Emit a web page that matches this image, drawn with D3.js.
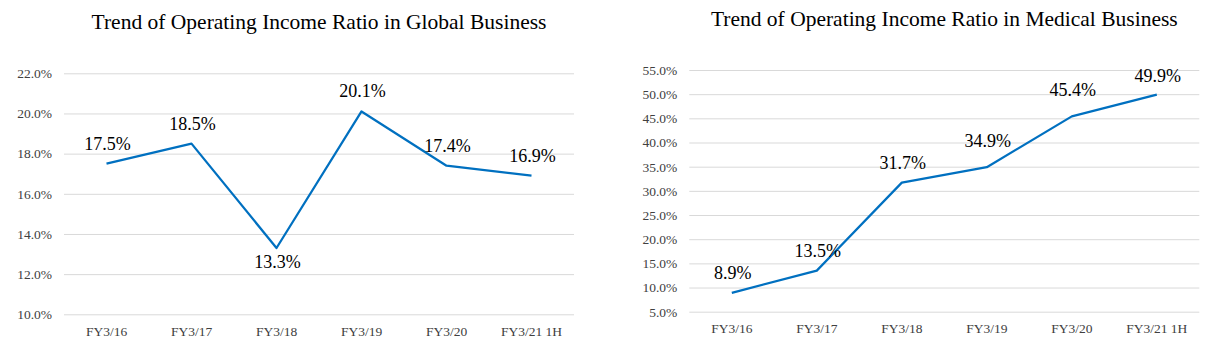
<!DOCTYPE html>
<html>
<head>
<meta charset="utf-8">
<script src="https://cdn.jsdelivr.net/npm/d3@7"></script>
<style>
  body { margin: 0; background: #fff; }
  svg { display: block; }
  svg text { font-family: "Liberation Serif", "Times New Roman", serif; }
</style>
</head>
<body>
<svg id="chart" width="1220" height="351"></svg>
<script>
// categories and values
const years = ["FY3/16", "FY3/17", "FY3/18", "FY3/19", "FY3/20", "FY3/21 1H"];
const globalRatio = [17.5, 18.5, 13.3, 20.1, 17.4, 16.9];
const medicalRatio = [8.9, 13.5, 31.7, 34.9, 45.4, 49.9];
const globalTicks = [10, 12, 14, 16, 18, 20, 22];
const medicalTicks = [5, 10, 15, 20, 25, 30, 35, 40, 45, 50, 55];

var svg = d3.select("#chart");
const serif = "Liberation Serif, Times New Roman, serif";

// panel layout
const panels = [
  {
    title: "Trend of Operating Income Ratio in Global Business",
    values: globalRatio, ticks: globalTicks,
    x0: 64, x1: 574, yTop: 73.3, yBot: 314.3, titleY: 29,
    // label offset (dy from the point)
    labelDy: [-13.5, -14, 20, -14, -13.5, -14]
  },
  {
    title: "Trend of Operating Income Ratio in Medical Business",
    values: medicalRatio, ticks: medicalTicks,
    x0: 689.3, x1: 1199.3, yTop: 70, yBot: 311.7, titleY: 25.7,
    labelDy: [-13.5, -14, -13.5, -20, -20, -13]
  }
];

panels.forEach(function (p) {
  const g = svg.append("g").attr("font-family", serif);

  const x = d3.scaleBand()
    .domain(years)
    .range([p.x0, p.x1]);

  const y = d3.scaleLinear()
    .domain(d3.extent(p.ticks))
    .range([p.yBot, p.yTop]);

  // gridlines + tick labels
  g.append("g")
    .attr("transform", "translate(" + p.x0 + ",0)")
    .call(d3.axisLeft(y)
      .tickValues(p.ticks)
      .tickSize(-(p.x1 - p.x0))
      .tickPadding(12)
      .tickFormat(function (d) { return d.toFixed(1) + "%"; }))
    .call(function (a) {
      a.attr("font-family", serif);
      a.select(".domain").remove();
      a.selectAll(".tick line").attr("stroke", "#d9d9d9").attr("stroke-width", 1);
      a.selectAll(".tick text")
        .attr("font-size", 13.5)
        .attr("fill", "#404040");
    });

  // category axis
  g.append("g")
    .attr("transform", "translate(0," + p.yBot + ")")
    .call(d3.axisBottom(x).tickSize(0).tickPadding(12))
    .call(function (a) {
      a.attr("font-family", serif);
      a.select(".domain").remove();
      a.selectAll(".tick text")
        .attr("font-size", 13.5)
        .attr("fill", "#404040");
    });

  // line
  const line = d3.line()
    .x(function (d, i) { return x(years[i]) + x.bandwidth() / 2; })
    .y(function (d) { return y(d); });

  g.append("path")
    .datum(p.values)
    .attr("d", line)
    .attr("fill", "none")
    .attr("stroke", "#0070c0")
    .attr("stroke-width", 2.25)
    .attr("stroke-linejoin", "round");

  // data labels
  g.selectAll("text.val")
    .data(p.values)
    .join("text")
    .attr("class", "val")
    .attr("x", function (d, i) { return x(years[i]) + x.bandwidth() / 2 + 1; })
    .attr("y", function (d, i) { return y(d) + p.labelDy[i]; })
    .attr("text-anchor", "middle")
    .attr("font-size", 18)
    .attr("fill", "#000")
    .text(function (d) { return d.toFixed(1) + "%"; });

  // title
  g.append("text")
    .attr("x", (p.x0 + p.x1) / 2)
    .attr("y", p.titleY)
    .attr("text-anchor", "middle")
    .attr("font-size", 21.5)
    .attr("fill", "#000")
    .text(p.title);
});
</script>
</body>
</html>
